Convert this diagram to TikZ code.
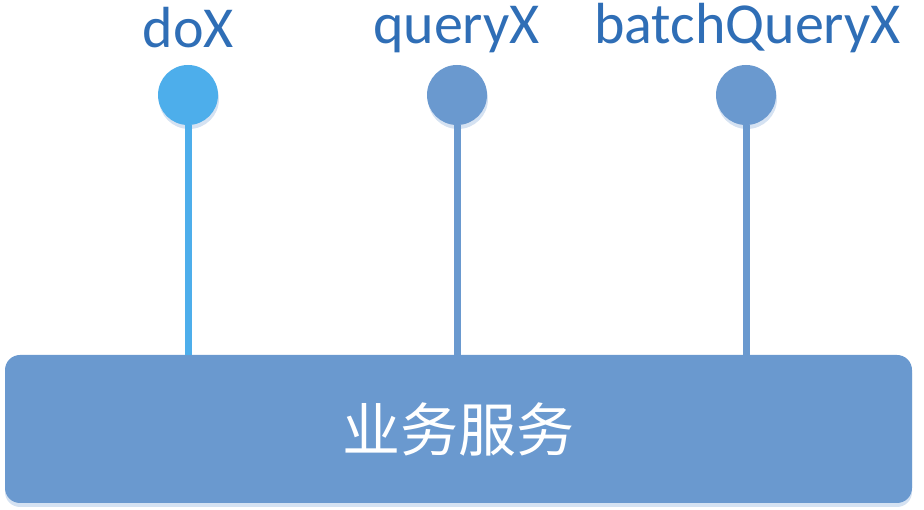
\documentclass[tikz,border=0pt]{standalone}
\usepackage{fontspec}
\setmainfont{Carlito}
\newfontfamily\cjk{Noto Sans CJK SC}
\definecolor{boxblue}{HTML}{6A99CF}
\definecolor{lightblue}{HTML}{4DAEEB}
\definecolor{labelblue}{HTML}{2F6EB6}
\definecolor{shadowblue}{HTML}{D5E2F2}
\begin{document}
\begin{tikzpicture}[x=1pt,y=1pt,
  service/.style={draw=none, fill=boxblue, rounded corners=15pt, minimum width=907pt, minimum height=148pt, inner sep=0pt, font=\cjk\fontsize{58}{64}\selectfont, text=white},
  pin/.style={circle, fill=#1, minimum size=60pt, inner sep=0pt},
  pinshadow/.style={circle, fill=shadowblue, minimum size=60pt, inner sep=0pt},
  stem/.style={line width=7pt, draw=#1},
  lbl/.style={font=\fontsize{58}{66}\selectfont, text=labelblue, anchor=base, inner sep=0pt, text height=37pt, text depth=10pt}]
\useasboundingbox (0,0) rectangle (924,510);
% shadows
\fill[shadowblue, rounded corners=15pt] (5,3) rectangle (912,152);
\node[pinshadow] at (189,411) {};
\node[pinshadow] at (458,411) {};
\node[pinshadow] at (747,411) {};
% box
\node[service] (svc) at (458.5,81) {业务服务};
% pins
\node[pin=lightblue] (p1) at (188,415) {};
\node[pin=boxblue] (p2) at (457,415) {};
\node[pin=boxblue] (p3) at (746,415) {};
\draw[stem=lightblue] (p1.south) -- (p1.south |- svc.north);
\draw[stem=boxblue] (p2.south) -- (p2.south |- svc.north);
\draw[stem=boxblue] (p3.south) -- (p3.south |- svc.north);
% labels
\node[lbl] (l1) at (188.5,462) {doX};
\node[lbl] (l2) at (456.5,466) {queryX};
\node[lbl] (l3) at (747.5,466) {batchQueryX};
\end{tikzpicture}
\end{document}
